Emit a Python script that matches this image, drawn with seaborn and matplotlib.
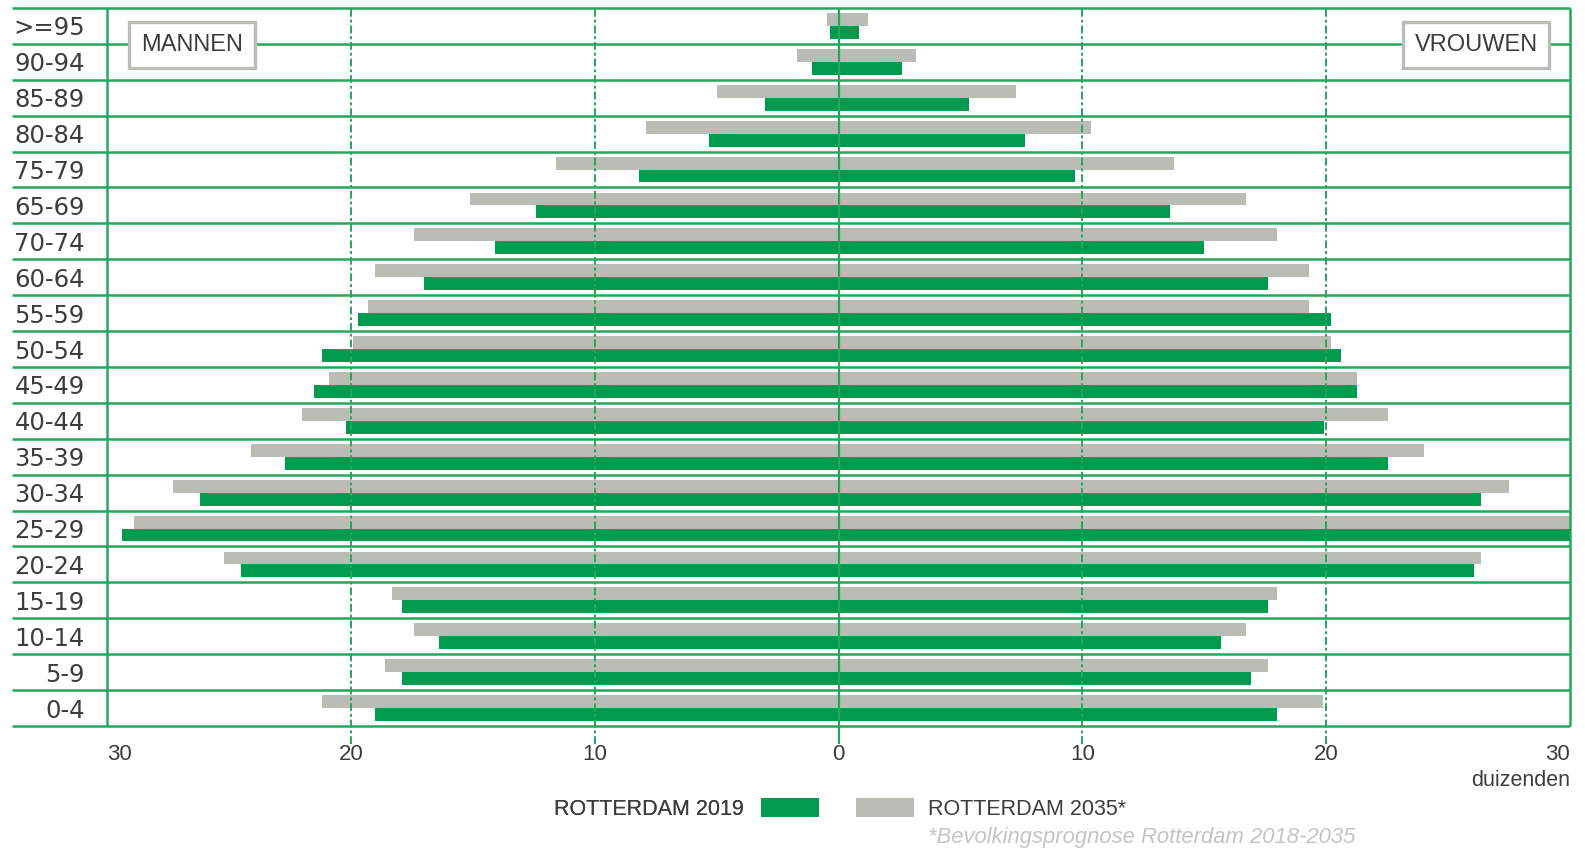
import pandas as pd
import matplotlib.pyplot as plt
import seaborn as sns
from matplotlib.patches import Patch

# leeftijdsgroepen van boven naar beneden (volgorde zoals in het origineel)
ages = [">=95", "90-94", "85-89", "80-84", "75-79", "65-69", "70-74", "60-64",
        "55-59", "50-54", "45-49", "40-44", "35-39", "30-34", "25-29", "20-24",
        "15-19", "10-14", "5-9", "0-4"]

# aantallen in duizenden
men_2019 = [0.33, 1.07, 3.0, 5.3, 8.2, 12.4, 14.1, 17.0, 19.7, 21.2,
            21.5, 20.2, 22.7, 26.2, 29.4, 24.5, 17.9, 16.4, 17.9, 19.0]
men_2035 = [0.49, 1.72, 5.0, 7.9, 11.6, 15.1, 17.4, 19.0, 19.3, 19.9,
            20.9, 22.0, 24.1, 27.3, 28.9, 25.2, 18.3, 17.4, 18.6, 21.2]
women_2019 = [0.84, 2.62, 5.35, 7.65, 9.7, 13.6, 15.0, 17.6, 20.2, 20.6,
              21.25, 19.9, 22.55, 26.35, 31.0, 26.05, 17.6, 15.7, 16.9, 18.0]
women_2035 = [1.23, 3.17, 7.3, 10.35, 13.75, 16.7, 18.0, 19.3, 19.3, 20.2,
              21.25, 22.55, 24.0, 27.5, 30.6, 26.35, 18.0, 16.7, 17.6, 19.85]

x_ticks = [-30, -20, -10, 0, 10, 20, 30]
x_labels = ["30", "20", "10", "0", "10", "20", "30"]

GREEN = "#009b4e"
GRAY = "#babdb5"
LINE = "#25a65c"
TEXT = "#3c3c3c"

sns.set_theme(style="white")
plt.rcParams['font.family'] = ['DejaVu Sans']
NARROW = ['Liberation Sans', 'DejaVu Sans']

df_m = pd.DataFrame({
    'leeftijd': ages * 2,
    'jaar': ['2035'] * len(ages) + ['2019'] * len(ages),
    'waarde': [-v for v in men_2035] + [-v for v in men_2019],
})
df_v = pd.DataFrame({
    'leeftijd': ages * 2,
    'jaar': ['2035'] * len(ages) + ['2019'] * len(ages),
    'waarde': women_2035 + women_2019,
})

fig = plt.figure(figsize=(15.85, 8.5), dpi=100)
W, H = 1585, 850
ax = fig.add_axes([107 / W, 1 - 726 / H, 1463 / W, 718 / H])

pal = {'2035': GRAY, '2019': GREEN}
for d in (df_m, df_v):
    sns.barplot(data=d, y='leeftijd', x='waarde', hue='jaar', order=ages,
                hue_order=['2035', '2019'], palette=pal, saturation=1,
                width=0.72, orient='h', legend=False, ax=ax, linewidth=0)

ax.set_xlim(-30, 30)
ax.set_ylim(len(ages) - 0.5, -0.5)
for s in ax.spines.values():
    s.set_visible(False)
ax.grid(False)

# horizontale rijlijnen, lopen door tot onder de labels
bounds = [i - 0.5 for i in range(len(ages) + 1)]
ax.hlines(bounds, -0.065, 1.0, transform=ax.get_yaxis_transform(),
          color=LINE, lw=1.8, clip_on=False, zorder=3)
# verticale lijnen
ax.vlines([-30, 30], 0, 1, transform=ax.get_xaxis_transform(),
          color=LINE, lw=1.8, clip_on=False, zorder=3)
ax.vlines([0], -0.025, 1, transform=ax.get_xaxis_transform(),
          color=LINE, lw=1.6, clip_on=False, zorder=3)
ax.vlines([-20, -10, 10, 20], -0.025, 1, transform=ax.get_xaxis_transform(),
          color=LINE, lw=1.4, linestyles=(0, (4, 1.5, 1.5, 1.5)), clip_on=False, zorder=3)

ax.set_xticks(x_ticks)
ax.set_xticklabels(x_labels, family=NARROW, fontsize=16, color=TEXT)
tl = ax.get_xticklabels()
tl[0].set_ha('left')
tl[-1].set_ha('right')
ax.tick_params(axis='x', length=0, pad=13)
ax.tick_params(axis='y', length=0, pad=16, labelsize=17.5, labelcolor=TEXT)
for lab in ax.get_yticklabels():
    lab.set_va('center_baseline')
ax.set_xlabel('')
ax.set_ylabel('')

fig.text(1570 / W, 1 - 781 / H, 'duizenden', ha='right', va='center',
         family=NARROW, fontsize=15.5, color=TEXT)

box = dict(boxstyle='square,pad=0.5', facecolor='white', edgecolor=GRAY, linewidth=2.4)
fig.text(192 / W, 1 - 45 / H, 'MANNEN', ha='center', va='center',
         fontsize=17, color=TEXT, family=NARROW, bbox=box, zorder=5)
fig.text(1476 / W, 1 - 45 / H, 'VROUWEN', ha='center', va='center',
         fontsize=17, color=TEXT, family=NARROW, bbox=box, zorder=5)

# legenda: tekst links van het groene blok, rechts van het grijze blok
leg_font = dict(family=NARROW, size=15.5)
leg1 = fig.legend(handles=[Patch(color=GREEN, lw=0)], labels=['ROTTERDAM 2019'],
                  loc='center right', bbox_to_anchor=(819 / W, 1 - 809 / H),
                  markerfirst=False, frameon=False, borderpad=0, borderaxespad=0,
                  handlelength=2.7, handleheight=1.0, handletextpad=0.8,
                  prop=leg_font, labelcolor=TEXT)
fig.add_artist(leg1)
fig.legend(handles=[Patch(color=GRAY, lw=0)], labels=['ROTTERDAM 2035*'],
           loc='center left', bbox_to_anchor=(856 / W, 1 - 809 / H),
           markerfirst=True, frameon=False, borderpad=0, borderaxespad=0,
           handlelength=2.7, handleheight=1.0, handletextpad=0.65,
           prop=leg_font, labelcolor=TEXT)

fig.text(928 / W, 1 - 838 / H, '*Bevolkingsprognose Rotterdam 2018-2035',
         ha='left', va='center', family=NARROW, style='italic', fontsize=15.8,
         color='#c4c4c4')

fig.savefig('out.png', dpi=100, facecolor='white')
